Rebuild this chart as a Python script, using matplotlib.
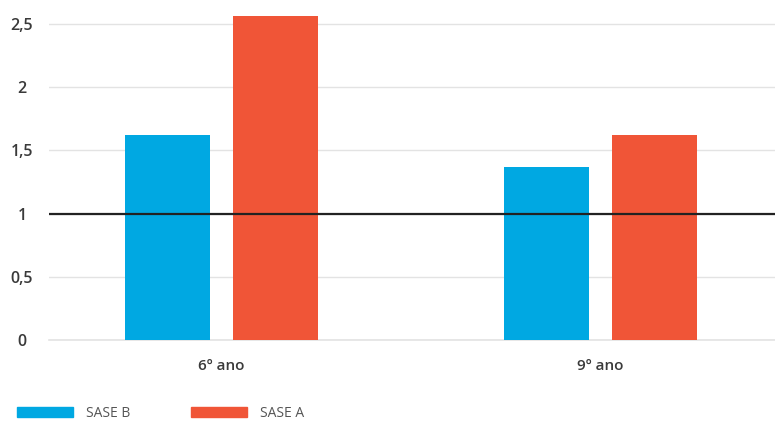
import matplotlib.pyplot as plt
from matplotlib.patches import Patch
import numpy as np

# data
categories = ["6º ano", "9º ano"]
series_names = ["SASE B", "SASE A"]
sase_b = [1.62, 1.37]
sase_a = [2.56, 1.62]
y_ticks = [0, 0.5, 1, 1.5, 2, 2.5]
y_tick_labels = ["0", "0,5", "1", "1,5", "2", "2,5"]
reference_line = 1.0

colors = ["#00A8E2", "#F05537"]

plt.rcParams["font.family"] = ["Open Sans", "DejaVu Sans"]

W, H = 775, 421
fig = plt.figure(figsize=(W / 100, H / 100), dpi=100)
# axes placed in pixel terms: left 49, right 775, bottom at y=340
ax = fig.add_axes([49 / W, (H - 340) / H, (W - 49) / W, (340 - 5) / H])

x = np.arange(len(categories))
bar_w = 0.224
offset = 0.143
ax.bar(x - offset, sase_b, width=bar_w, color=colors[0], zorder=2)
ax.bar(x + offset, sase_a, width=bar_w, color=colors[1], zorder=2)

ax.axhline(reference_line, color="#222222", lw=1.6, zorder=3)
ax.axhline(0, color="#e3e3e3", lw=1.2, zorder=1, clip_on=False)

ax.set_ylim(0, 335 / 126.4)
ax.set_xlim(-0.455, -0.455 + (W - 49) / 379)
ax.set_yticks(y_ticks)
ax.set_yticklabels(y_tick_labels)
ax.set_xticks(x)
ax.set_xticklabels(categories)

ax.grid(axis="y", color="#e3e3e3", lw=1, zorder=0)
for s in ax.spines.values():
    s.set_visible(False)
ax.tick_params(axis="both", length=0)
ax.tick_params(axis="x", pad=14)
for lab in ax.get_xticklabels():
    lab.set_fontsize(11)
    lab.set_fontweight("semibold")
    lab.set_color("#3a3a3a")
for lab in ax.get_yticklabels():
    lab.set_fontsize(11.5)
    lab.set_fontweight("semibold")
    lab.set_color("#3a3a3a")
    lab.set_horizontalalignment("center")
    lab.set_x(-27 / (W - 49))
    lab.set_transform(ax.get_yaxis_transform())

handles = [Patch(color=c) for c in colors]
fig.legend(handles, series_names, loc="lower left",
           bbox_to_anchor=(17 / W, 0 / H), ncol=2, frameon=False,
           borderpad=0, borderaxespad=0, handlelength=4.0, handleheight=0.75,
           handletextpad=0.95, columnspacing=4.4,
           prop={"size": 10, "family": ["Open Sans", "DejaVu Sans"]},
           labelcolor="#555555")

fig.savefig("out.png", dpi=100)
